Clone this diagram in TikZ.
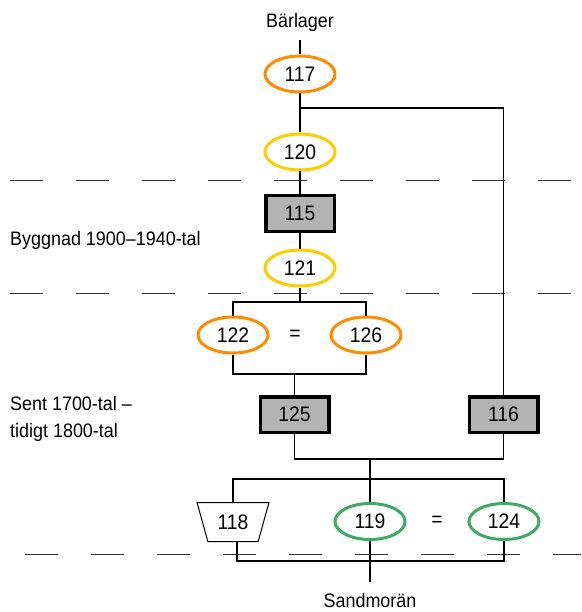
\documentclass[tikz,border=0pt]{standalone}
\usepackage{fontspec}
\setmainfont{Liberation Sans}[FakeStretch=0.92]
\usetikzlibrary{shapes.geometric}
\definecolor{orng}{HTML}{FF8C00}
\definecolor{yel}{HTML}{FFCC00}
\definecolor{grn}{HTML}{3DAA66}
\definecolor{boxgray}{HTML}{B3B3B3}
\begin{document}
\begin{tikzpicture}[x=1pt,y=-1pt,font=\fontsize{19.5}{27}\selectfont,
  numfont/.style={font=\fontsize{21}{25}\selectfont},
  ell/.style={numfont,ellipse,draw,line width=3pt,minimum width=70pt,minimum height=36pt,inner sep=0pt,fill=white},
  unitbox/.style={numfont,rectangle,draw,line width=3.5pt,fill=boxgray,minimum width=68.5pt,minimum height=35.5pt,inner sep=0pt},
  conn/.style={line width=1.2pt},
  level/.style={dash pattern=on 33pt off 33pt,line width=1pt,draw=black!80},
  lbl/.style={inner sep=0pt,align=left}]
\useasboundingbox (0,0) rectangle (581,612);
% stratigraphic level lines
\draw[level] (10,181) -- (581,181);
\draw[level] (10,293) -- (581,293);
\draw[level] (25,554) -- (581,554);
% nodes
\node[inner sep=0pt] (bar) at (300,22) {Bärlager};
\node[ell,draw=orng] (n117) at (300,74) {117};
\node[ell,draw=yel] (n120) at (300,152) {120};
\node[unitbox] (n115) at (300,213.5) {115};
\node[ell,draw=yel] (n121) at (300,268) {121};
\node[ell,draw=orng] (n122) at (233,335) {122};
\node[ell,draw=orng] (n126) at (366,335) {126};
\node[numfont] (eq1) at (295,335) {=};
\node[unitbox] (n125) at (294.5,414.5) {125};
\node[unitbox] (n116) at (503.5,414.5) {116};
\node[numfont,trapezium,draw,line width=1pt,trapezium angle=66,minimum height=39pt,minimum width=72pt,trapezium stretches=true,shape border rotate=180,inner sep=0pt,fill=white] (n118) at (233,522) {118};
\node[ell,draw=grn] (n119) at (370,521.5) {119};
\node[ell,draw=grn] (n124) at (504,521.5) {124};
\node[numfont] (eq2) at (437,521.5) {=};
\node[inner sep=0pt] (sand) at (370,601) {Sandmorän};
\node[lbl,anchor=west] (byg) at (10,240) {Byggnad 1900–1940-tal};
\node[lbl,anchor=west] (sent) at (10,419) {Sent 1700-tal –\\tidigt 1800-tal};
% junction coordinates
\coordinate (top) at (300,40);
\coordinate (j0) at (300,108);
\coordinate (j1) at (300,302);
\coordinate (j2) at (294.5,374);
\coordinate (j3) at (370,459);
\coordinate (j4) at (370,479);
\coordinate (j5) at (370,561);
\coordinate (bot) at (370,582);
% connectors
\draw[conn] (top) -- (n117.north);
\draw[conn] (n117.south) -- (n120.north);
\draw[conn] (j0) -| (n116.north);
\draw[conn] (n120.south) -- (n115.north);
\draw[conn] (n115.south) -- (n121.north);
\draw[conn] (n121.south) -- (j1);
\draw[conn] (n122.north) |- (j1) -| (n126.north);
\draw[conn] (n122.south) |- (j2) -| (n126.south);
\draw[conn] (j2) -- (n125.north);
\draw[conn] (n125.south) |- (j3) -| (n116.south);
\draw[conn] (j3) -- (n119.north);
\draw[conn] (n118.north) |- (j4) -| (n124.north);
\draw[conn] ([xshift=4pt]n118.south) |- (j5) -| (n124.south);
\draw[conn] (n119.south) -- (bot);
\end{tikzpicture}
\end{document}
